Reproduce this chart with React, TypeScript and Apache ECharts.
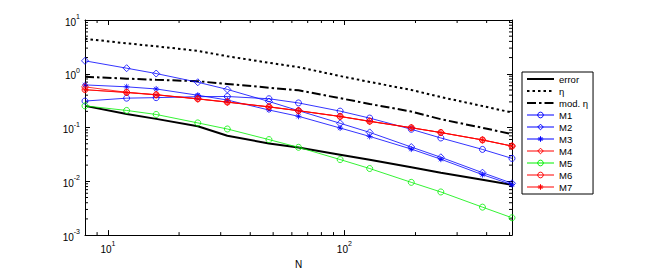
import React, { useEffect, useRef } from "react";
import * as echarts from "echarts";

const N = [8, 12, 16, 24, 32, 48, 64, 96, 128, 192, 256, 384, 512];
const errorVals = [0.253, 0.178, 0.145, 0.106, 0.0705, 0.0506, 0.0424, 0.0313, 0.0251, 0.0183, 0.0145, 0.0107, 0.00857];
const etaVals = [4.47, 3.68, 3.24, 2.67, 2.12, 1.6, 1.33, 0.908, 0.705, 0.501, 0.369, 0.251, 0.19];
const modEtaVals = [0.881, 0.811, 0.773, 0.726, 0.647, 0.551, 0.492, 0.351, 0.275, 0.198, 0.143, 0.0989, 0.0755];
const m1Vals = [0.311, 0.352, 0.36, 0.375, 0.378, 0.343, 0.287, 0.202, 0.15, 0.0929, 0.064, 0.0392, 0.0267];
const m2Vals = [1.74, 1.27, 1.01, 0.696, 0.512, 0.305, 0.206, 0.12, 0.0813, 0.0434, 0.028, 0.0145, 0.00919];
const m3Vals = [0.621, 0.572, 0.522, 0.399, 0.325, 0.212, 0.162, 0.098, 0.0684, 0.0398, 0.0258, 0.0133, 0.00867];
const m4Vals = [0.571, 0.452, 0.408, 0.342, 0.298, 0.243, 0.206, 0.161, 0.131, 0.0993, 0.0808, 0.0589, 0.0453];
const m5Vals = [0.253, 0.208, 0.175, 0.122, 0.094, 0.0597, 0.0429, 0.0254, 0.0173, 0.00957, 0.00634, 0.00331, 0.0021];
const m6Vals = [0.505, 0.452, 0.408, 0.342, 0.298, 0.243, 0.206, 0.161, 0.131, 0.0993, 0.0808, 0.0589, 0.0453];
const m7Vals = [0.505, 0.447, 0.405, 0.34, 0.296, 0.241, 0.205, 0.16, 0.13, 0.099, 0.0805, 0.0587, 0.0451];

const xMinorTicks = [9, 20, 30, 40, 50, 60, 70, 80, 90, 200, 300, 400, 500];
const yMinorTicks = [
  0.002, 0.003, 0.004, 0.005, 0.006, 0.007, 0.008, 0.009,
  0.02, 0.03, 0.04, 0.05, 0.06, 0.07, 0.08, 0.09,
  0.2, 0.3, 0.4, 0.5, 0.6, 0.7, 0.8, 0.9,
  2, 3, 4, 5, 6, 7, 8, 9,
];

const X_MIN = 8;
const X_MAX = 512;
const Y_MIN = 0.001;
const Y_MAX = 10;

const FONT = "'Liberation Sans', Arial, Helvetica, sans-serif";
const BLUE = "#0000ff";
const RED = "#ff0000";
const GREEN = "#00f000";
const STAR = "path://M5,0L5,10M0,5L10,5M1.5,1.5L8.5,8.5M1.5,8.5L8.5,1.5";
const CLEAR = "rgba(255,255,255,0)";
const THIN = 0.8;

function powLabel(v: number) {
  const l = Math.log10(v);
  const e = Math.round(l);
  if (Math.abs(l - e) > 1e-6) return "";
  return `{b|10}{s|${e}}`;
}

const labelRich = {
  b: { fontSize: 10, fontFamily: FONT, color: "#000", lineHeight: 14, verticalAlign: "bottom" },
  s: { fontSize: 7, fontFamily: FONT, color: "#000", lineHeight: 14, verticalAlign: "top" },
};

function pts(vals: number[]) {
  return N.map((n, i) => [n, vals[i]]);
}

function markerSeries(name: string, vals: number[], color: string, symbol: string, size: number) {
  return {
    name,
    type: "line",
    data: pts(vals),
    symbol,
    symbolSize: size,
    showSymbol: true,
    lineStyle: { color, width: THIN },
    itemStyle: { color: CLEAR, borderColor: color, borderWidth: THIN },
    z: 3,
  };
}

function markerLegend(name: string, color: string) {
  return {
    name,
    itemStyle: { color: CLEAR, borderColor: color, borderWidth: 1 },
    lineStyle: { color, width: 1, type: "solid" },
  };
}

function lineLegend(name: string, type: any) {
  return {
    name,
    itemStyle: { color: CLEAR, borderColor: CLEAR, borderWidth: 0, opacity: 0 },
    lineStyle: { color: "#000", width: 2, type },
  };
}

export default function App() {
  const ref = useRef<HTMLDivElement>(null);
  useEffect(() => {
    document.body.style.margin = "0";
    const chart = echarts.init(ref.current!, undefined, { renderer: "svg" });
    const axisCommon = {
      type: "log",
      logBase: 10,
      axisLine: { show: true, lineStyle: { color: "#000", width: 1 } },
      splitLine: { show: false },
      minorTick: { show: false },
      axisTick: { show: true, inside: true, length: 5, lineStyle: { color: "#000" } },
    };
    const dotted = [2.5, 3];
    const dashDot = [9, 3, 2.5, 3];
    const option: any = {
      animation: false,
      backgroundColor: "#fff",
      textStyle: { fontFamily: FONT },
      grid: { left: 85, top: 20, right: 142, bottom: 31, show: false },
      xAxis: [
        {
          ...axisCommon,
          min: X_MIN,
          max: X_MAX,
          splitNumber: 2,
          position: "bottom",
          name: "N",
          nameLocation: "middle",
          nameGap: 23,
          nameTextStyle: { fontSize: 10, fontFamily: FONT, color: "#000" },
          axisLabel: { formatter: powLabel, rich: labelRich, margin: 5, showMinLabel: true, showMaxLabel: true },
        },
        {
          ...axisCommon,
          min: X_MIN,
          max: X_MAX,
          splitNumber: 2,
          position: "top",
          axisLabel: { show: false },
        },
      ],
      yAxis: [
        {
          ...axisCommon,
          min: Y_MIN,
          max: Y_MAX,
          position: "left",
          axisLabel: { formatter: powLabel, rich: labelRich, margin: 5 },
        },
        {
          ...axisCommon,
          min: Y_MIN,
          max: Y_MAX,
          position: "right",
          axisLabel: { show: false },
        },
      ],
      legend: {
        left: 522,
        top: 72,
        orient: "vertical",
        backgroundColor: "#fff",
        borderColor: "#000",
        borderWidth: 1,
        borderRadius: 0,
        padding: [2, 5, 2, 4],
        itemWidth: 27,
        itemHeight: 7,
        itemGap: 2,
        textStyle: { fontSize: 9.5, fontFamily: FONT, color: "#000", lineHeight: 10 },
        data: [
          lineLegend("error", "solid"),
          lineLegend("η", dotted),
          lineLegend("mod. η", dashDot),
          markerLegend("M1", BLUE),
          markerLegend("M2", BLUE),
          markerLegend("M3", BLUE),
          markerLegend("M4", RED),
          markerLegend("M5", GREEN),
          markerLegend("M6", RED),
          markerLegend("M7", RED),
        ],
      },
      series: [
        {
          name: "error",
          type: "line",
          data: pts(errorVals),
          showSymbol: false,
          symbol: "none",
          lineStyle: { color: "#000", width: 2 },
          itemStyle: { color: "#000" },
          z: 2,
        },
        {
          name: "η",
          type: "line",
          data: pts(etaVals),
          showSymbol: false,
          symbol: "none",
          lineStyle: { color: "#000", width: 2, type: dotted },
          itemStyle: { color: "#000" },
          z: 2,
        },
        {
          name: "mod. η",
          type: "line",
          data: pts(modEtaVals),
          showSymbol: false,
          symbol: "none",
          lineStyle: { color: "#000", width: 2, type: dashDot },
          itemStyle: { color: "#000" },
          z: 2,
        },
        markerSeries("M1", m1Vals, BLUE, "circle", 6),
        markerSeries("M2", m2Vals, BLUE, "diamond", 7),
        markerSeries("M3", m3Vals, BLUE, STAR, 6),
        markerSeries("M4", m4Vals, RED, "diamond", 7),
        markerSeries("M5", m5Vals, GREEN, "circle", 6),
        markerSeries("M6", m6Vals, RED, "circle", 6),
        markerSeries("M7", m7Vals, RED, STAR, 6),
        {
          type: "custom",
          silent: true,
          data: xMinorTicks.map((v) => [v, Y_MIN]),
          encode: { x: 0, y: 1 },
          renderItem: (params: any, api: any) => {
            const v = api.value(0);
            const b = api.coord([v, Y_MIN]);
            const t = api.coord([v, Y_MAX]);
            return {
              type: "group",
              children: [
                { type: "line", shape: { x1: b[0], y1: b[1], x2: b[0], y2: b[1] - 3 }, style: { stroke: "#000", lineWidth: 1 } },
                { type: "line", shape: { x1: t[0], y1: t[1], x2: t[0], y2: t[1] + 3 }, style: { stroke: "#000", lineWidth: 1 } },
              ],
            };
          },
          z: 1,
        },
        {
          type: "custom",
          silent: true,
          data: yMinorTicks.map((v) => [X_MIN, v]),
          encode: { x: 0, y: 1 },
          renderItem: (params: any, api: any) => {
            const v = api.value(1);
            const l = api.coord([X_MIN, v]);
            const r = api.coord([X_MAX, v]);
            return {
              type: "group",
              children: [
                { type: "line", shape: { x1: l[0], y1: l[1], x2: l[0] + 3, y2: l[1] }, style: { stroke: "#000", lineWidth: 1 } },
                { type: "line", shape: { x1: r[0], y1: r[1], x2: r[0] - 3, y2: r[1] }, style: { stroke: "#000", lineWidth: 1 } },
              ],
            };
          },
          z: 1,
        },
      ],
    };
    chart.setOption(option);
    return () => chart.dispose();
  }, []);
  return <div ref={ref} style={{ width: 654, height: 274 }} />;
}
